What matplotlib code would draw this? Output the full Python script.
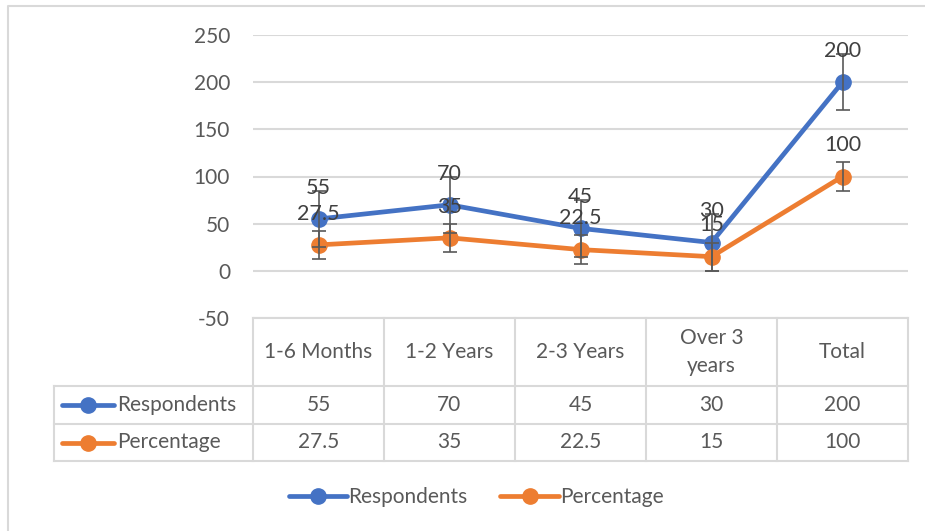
import numpy as np
import matplotlib.pyplot as plt

plt.rcParams['font.family'] = ['Lato', 'DejaVu Sans']
plt.rcParams['axes.unicode_minus'] = False

# data
categories = ['1-6 Months', '1-2 Years', '2-3 Years', 'Over 3\nyears', 'Total']
respondents = [55, 70, 45, 30, 200]
percentage = [27.5, 35, 22.5, 15, 100]
resp_err = 30
pct_err = 15
series = [('Respondents', respondents, resp_err, '#4472C4'),
          ('Percentage', percentage, pct_err, '#ED7D31')]
yticks = [-50, 0, 50, 100, 150, 200, 250]

W, H = 925, 531
fig = plt.figure(figsize=(W / 100, H / 100), dpi=100)
txt_col = '#595959'
fs = 15

# plot area (pixel layout)
px_left, px_right, px_top, px_bot = 253, 908, 35, 318
ax = fig.add_axes([px_left / W, 1 - px_bot / H, (px_right - px_left) / W, (px_bot - px_top) / H])
ax.set_xlim(-0.5, len(categories) - 0.5)
ax.set_ylim(-50, 250)
ax.set_yticks(yticks)
ax.set_xticks([])
for s in ax.spines.values():
    s.set_visible(False)
ax.tick_params(axis='y', length=0, labelsize=fs, labelcolor=txt_col, pad=16.5)
ax.grid(axis='y', color='#D9D9D9', linewidth=1.5)
ax.set_axisbelow(True)

x = np.arange(len(categories))
handles = []
for name, vals, err, col in series:
    ln, = ax.plot(x, vals, color=col, lw=3.4, marker='o', ms=11, zorder=3,
                  solid_capstyle='round', label=name)
    ax.errorbar(x, vals, yerr=err, fmt='none', ecolor='#595959', elinewidth=1.2,
                capsize=5, capthick=1.2, zorder=4)
    for xi, v in zip(x, vals):
        ax.annotate(f'{v:g}', (xi, v), xytext=(0, 22.5), textcoords='offset points',
                    ha='center', va='center', fontsize=15.5, color='#404040', zorder=5)
    handles.append(ln)

# overlay for the data table and the chart frame
ov = fig.add_axes([0, 0, 1, 1], facecolor='none')
ov.set_xlim(0, W)
ov.set_ylim(H, 0)
ov.axis('off')

grid_col = '#D9D9D9'
ov.plot([8, 8, W], [H, 6, 6], color=grid_col, lw=1.5)

col_edges = np.linspace(px_left, px_right, len(categories) + 1)
row_edges = [px_bot, 386, 424, 461]
key_left = 54
# horizontal table lines
ov.plot([px_left, px_right], [row_edges[0]] * 2, color=grid_col, lw=1.5)
for y in row_edges[1:]:
    ov.plot([key_left, px_right], [y, y], color=grid_col, lw=1.5)
# vertical table lines
for xe in col_edges:
    ov.plot([xe, xe], [row_edges[0], row_edges[-1]], color=grid_col, lw=1.5)
ov.plot([key_left, key_left], [row_edges[1], row_edges[-1]], color=grid_col, lw=1.5)

centers = (col_edges[:-1] + col_edges[1:]) / 2
for cx, cat in zip(centers, categories):
    ov.text(cx, (row_edges[0] + row_edges[1]) / 2, cat, ha='center', va='center',
            fontsize=fs, color=txt_col, linespacing=1.5)
for r, (name, vals, err, col) in enumerate(series):
    cy = (row_edges[r + 1] + row_edges[r + 2]) / 2
    ov.plot([62, 114], [cy, cy], color=col, lw=3.4, solid_capstyle='round')
    ov.plot([88], [cy], 'o', color=col, ms=11)
    ov.text(117, cy, name, ha='left', va='center', fontsize=fs, color=txt_col)
    for cx, v in zip(centers, vals):
        ov.text(cx, cy, f'{v:g}', ha='center', va='center', fontsize=fs, color=txt_col)

fig.legend(handles=handles, loc='center', bbox_to_anchor=(476 / W, 1 - 497 / H), ncol=2,
           frameon=False, fontsize=fs, labelcolor=txt_col, handlelength=2.8,
           handletextpad=0.05, columnspacing=1.6)

fig.savefig('out.png', dpi=100)
